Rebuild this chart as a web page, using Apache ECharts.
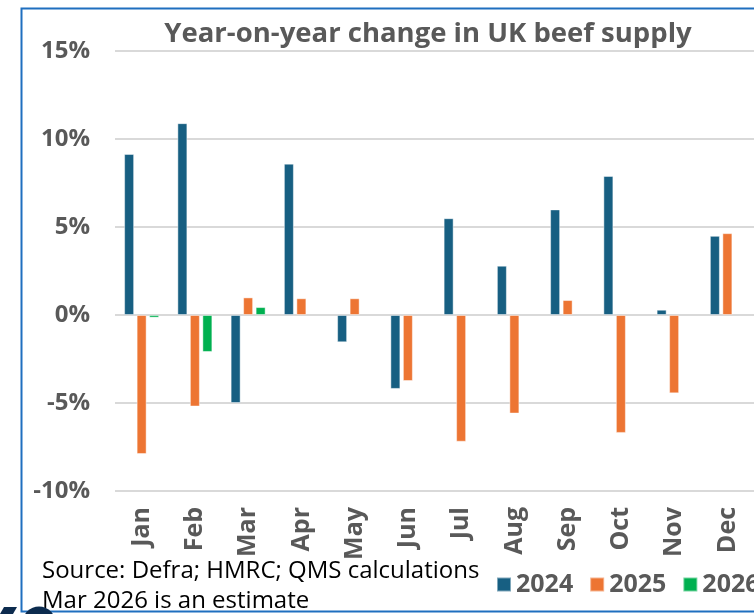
<!DOCTYPE html>
<html>
<head>
<meta charset="utf-8">
<script src="https://cdn.jsdelivr.net/npm/echarts@6/dist/echarts.min.js"></script>
<style>
  html, body { margin: 0; padding: 0; background: #fff; }
  #chart { width: 754px; height: 614px; }
</style>
</head>
<body>
<div id="chart"></div>
<script>
const months = ['Jan', 'Feb', 'Mar', 'Apr', 'May', 'Jun', 'Jul', 'Aug', 'Sep', 'Oct', 'Nov', 'Dec'];
const yoy2024 = [9.15, 10.9, -5.0, 8.6, -1.55, -4.2, 5.5, 2.8, 6.0, 7.9, 0.3, 4.5];
const yoy2025 = [-7.9, -5.2, 1.0, 0.95, 0.95, -3.75, -7.2, -5.6, 0.85, -6.7, -4.45, 4.65];
const yoy2026 = [-0.15, -2.1, 0.45, null, null, null, null, null, null, null, null, null];
const yTicks = [-10, -5, 0, 5, 10, 15];

const grey = '#595959';
const chart = echarts.init(document.getElementById('chart'));

function barSeries(name, data, color) {
  return {
    name: name,
    type: 'bar',
    data: data,
    barWidth: 10,
    barGap: '25%',
    itemStyle: { color: color, borderColor: 'rgba(255,255,255,0.45)', borderWidth: 1 }
  };
}

const option = {
  animation: false,
  textStyle: { fontFamily: 'Open Sans' },
  title: {
    text: 'Year-on-year change in UK beef supply',
    left: 423,
    textAlign: 'center',
    top: 15,
    textStyle: { color: grey, fontSize: 27.5, fontWeight: 'bold' }
  },
  grid: { left: 115, right: -4, top: 51, bottom: 123, containLabel: false },
  legend: {
    left: 496,
    top: 572,
    width: 600,
    padding: 0,
    itemWidth: 14,
    itemHeight: 14,
    itemGap: 16,
    icon: 'rect',
    textStyle: { color: grey, fontSize: 25, fontWeight: 'bold' },
    data: ['2024', '2025', '2026']
  },
  xAxis: {
    type: 'category',
    data: months,
    axisLine: { show: false },
    axisTick: { show: false },
    axisLabel: { rotate: 90, color: grey, fontSize: 25, fontWeight: 'bold', margin: 16 }
  },
  yAxis: {
    type: 'value',
    min: yTicks[0],
    max: yTicks[yTicks.length - 1],
    interval: 5,
    axisLine: { show: false },
    axisTick: { show: false },
    axisLabel: {
      color: grey, fontSize: 24, fontWeight: 'bold', margin: 25, align: 'right',
      formatter: v => v + '%'
    },
    splitLine: { lineStyle: { color: '#d9d9d9', width: 2 } }
  },
  graphic: [
    { type: 'rect', shape: { x: 21.5, y: 8.5, width: 760, height: 603 },
      style: { fill: 'none', stroke: '#1f6fbf', lineWidth: 2 }, z: 0 },
    { type: 'text', left: 42, top: 559,
      style: { text: 'Source: Defra; HMRC; QMS calculations', fill: '#000', fontSize: 24, fontFamily: 'Open Sans' } },
    { type: 'text', left: 42, top: 589,
      style: { text: 'Mar 2026 is an estimate', fill: '#000', fontSize: 24, fontFamily: 'Open Sans' } },
    { type: 'circle', shape: { cx: 39, cy: 623, r: 16.5 }, style: { fill: '#0c2b4e' }, z: 10 },
    { type: 'polygon', shape: { points: [[0, 614], [4, 607], [17, 607], [13, 614]] }, style: { fill: '#0c2b4e' }, z: 10 }
  ],
  series: [
    barSeries('2024', yoy2024, '#175f82'),
    barSeries('2025', yoy2025, '#ed7533'),
    barSeries('2026', yoy2026, '#00b050')
  ]
};
chart.setOption(option);
</script>
</body>
</html>
